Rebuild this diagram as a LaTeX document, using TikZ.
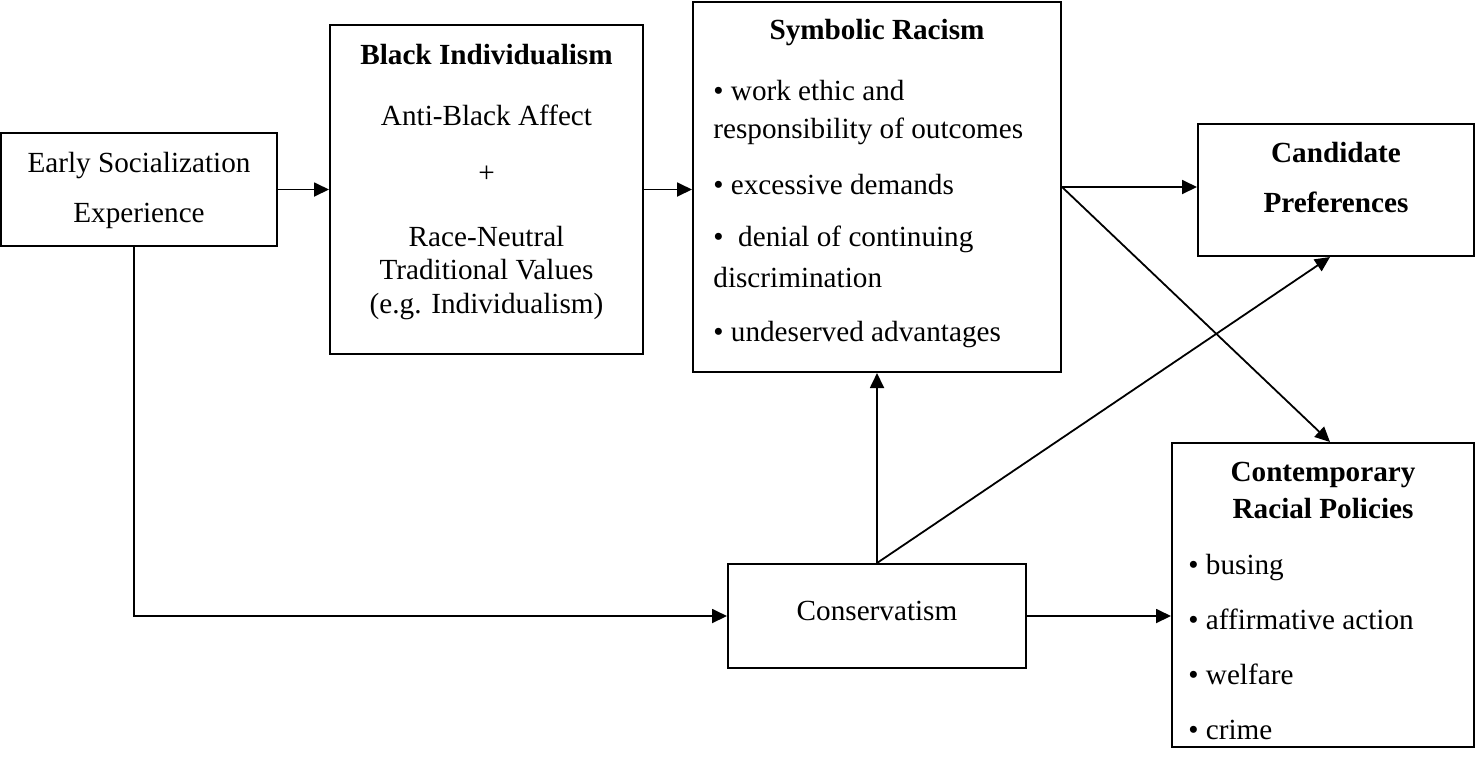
\documentclass[tikz,border=0pt]{standalone}
\usepackage{fontspec}
\setmainfont{Liberation Serif}
\usetikzlibrary{arrows.meta,calc}
\begin{document}
\begin{tikzpicture}[x=0.5pt,y=-0.5pt,
  box/.style 2 args={draw,line width=1pt,inner sep=0pt,minimum width=#1,minimum height=#2},
  txt/.style={inner sep=0pt,font=\fontsize{14.6pt}{25pt}\selectfont},
  arr/.style={-{Triangle[length=7.5pt,width=7pt]},line width=0.9pt}]
\useasboundingbox (0,0) rectangle (1475,756);
% boxes
\node[box={138pt}{56.5pt}]   (early)   at (139,189.5) {};
\node[box={156.5pt}{164.5pt}] (black)  at (486.5,189.5) {};
\node[box={184pt}{185pt}]    (symb)    at (877,187) {};
\node[box={138pt}{66pt}]     (cand)    at (1336,190) {};
\node[box={149pt}{52pt}]     (cons)    at (877,616) {};
\node[box={151pt}{152pt}]    (contemp) at (1323,595) {};
% texts
\node[txt,align=center,anchor=north] (earlyT) at (139,152) {Early Socialization\\Experience};
\node[txt,align=center,anchor=north,font=\fontsize{14.6pt}{16.5pt}\selectfont] (blackT) at (486.5,44)
  {\textbf{Black Individualism}\\[14pt]Anti-Black Affect\\[12pt]+\\[15.5pt]Race-Neutral\\Traditional Values\\[0.5pt](e.g. Individualism)};
\node[txt,anchor=base] (symbT) at (877,39) {\textbf{Symbolic Racism}};
\node[txt,align=left,anchor=north west,font=\fontsize{14.6pt}{19pt}\selectfont] (symbL) at (713,80)
  {• work ethic and\\responsibility of outcomes\\[9pt]• excessive demands\\[7pt]•~ denial of continuing\\[1.5pt]discrimination\\[8pt]• undeserved advantages};
\node[txt,align=center,anchor=north,font=\bfseries\fontsize{14.6pt}{25pt}\selectfont] (candT) at (1336,142) {Candidate\\Preferences};
\node[txt,anchor=base] (consT) at (877,620) {Conservatism};
\node[txt,align=center,anchor=north,font=\bfseries\fontsize{14.6pt}{18.5pt}\selectfont] (contT) at (1323,462) {Contemporary\\Racial Policies};
\node[txt,align=left,anchor=north west,font=\fontsize{14.6pt}{27.5pt}\selectfont] (contL) at (1188,554)
  {• busing\\• affirmative action\\• welfare\\• crime};
% connectors
\draw[arr] (early) -- (black);
\draw[arr] (black.east) -- (black.east -| symb.west);
\draw[arr] (symb.east) -- (symb.east -| cand.west);
\draw[arr] (symb.east) -- ([xshift=3.5pt]contemp.north);
\draw[arr] (cons.north) -- (symb.south);
\draw[arr] (cons.north) -- ([xshift=-3pt]cand.south);
\draw[arr] ([xshift=-2.5pt]early.south) |- (cons.west);
\draw[arr] (cons.east) -- (cons.east -| contemp.west);
\end{tikzpicture}
\end{document}
